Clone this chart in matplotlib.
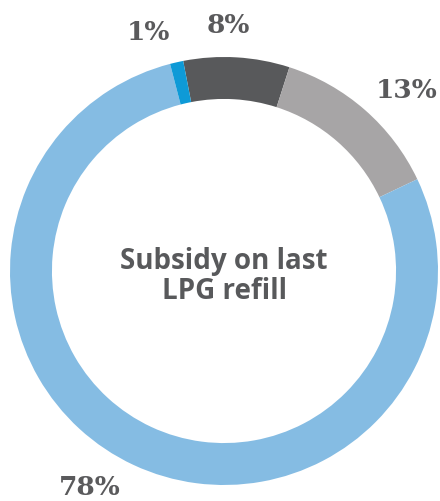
import matplotlib.pyplot as plt

# donut slices, clockwise from the top
labels = ['8%', '13%', '78%', '1%']
values = [8, 13, 78, 1]
colors = ['#58595b', '#a7a5a6', '#85bce3', '#0e9ad7']
title = 'Subsidy on last\nLPG refill'

# label positions (data units, radius 1 = outer edge)
label_pos = [(0.02, 1.154), (0.855, 0.85), (-0.626, -1.009), (-0.355, 1.117)]

fig = plt.figure(figsize=(4.4, 5.02), dpi=100)
ax = fig.add_axes([0, 0, 1, 1])

ax.pie(values, colors=colors, startangle=101, counterclock=False,
       radius=1.0, wedgeprops=dict(width=0.196, edgecolor='none'))

for text, (x, y) in zip(labels, label_pos):
    ax.text(x, y, text, ha='center', va='center', fontsize=19,
            fontweight='bold', family='DejaVu Serif', color='#5a5a5c')

ax.text(0, -0.023, title, ha='center', va='center', fontsize=20,
        fontweight='bold', family='Open Sans', color='#58595b',
        linespacing=1.05)

ax.set_xlim(-224 / 214, 216 / 214)
ax.set_ylim(-230 / 214, 272 / 214)
ax.set_aspect('auto')
ax.axis('off')

plt.savefig('out.png', dpi=100)
